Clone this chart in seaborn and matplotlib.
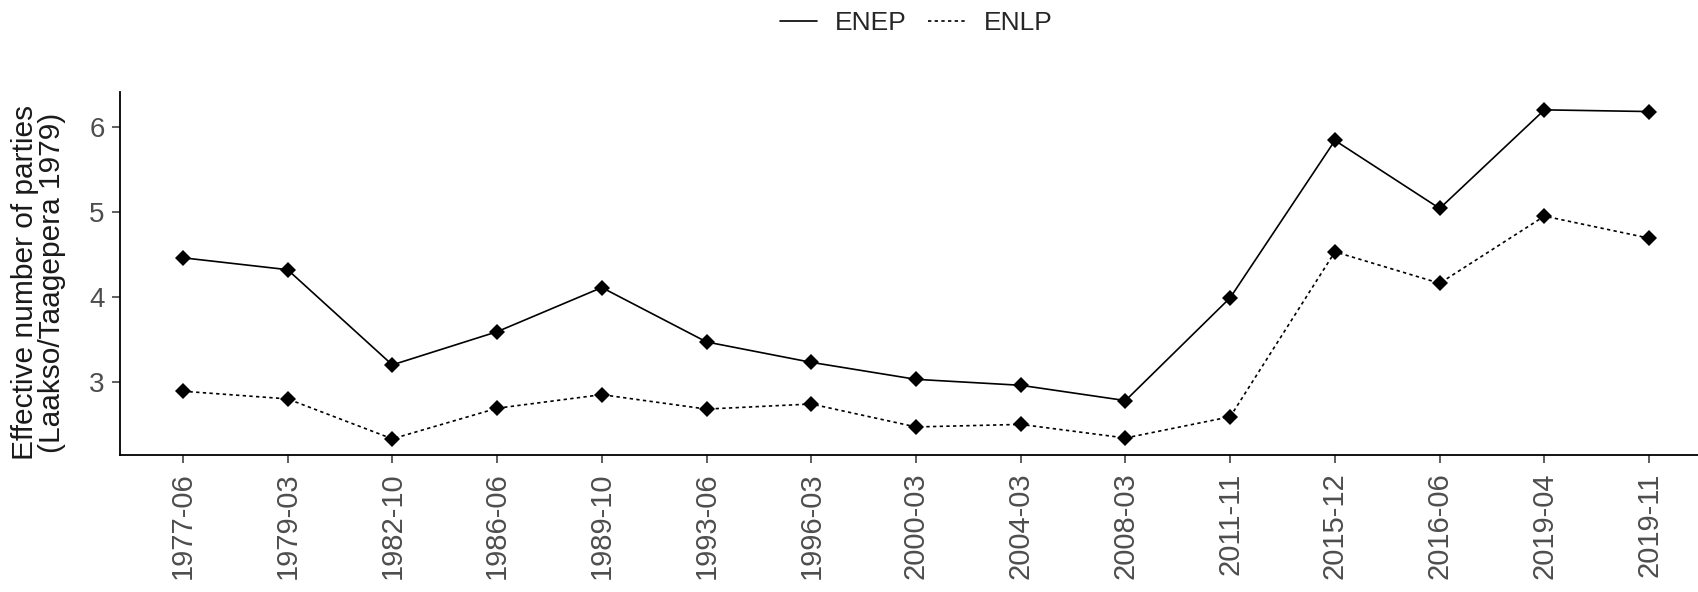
import pandas as pd
import matplotlib
matplotlib.use('Agg')
import matplotlib.pyplot as plt
import seaborn as sns

# election dates and effective number of parties
elections = ['1977-06', '1979-03', '1982-10', '1986-06', '1989-10', '1993-06', '1996-03',
             '2000-03', '2004-03', '2008-03', '2011-11', '2015-12', '2016-06', '2019-04', '2019-11']
enep = [4.46, 4.32, 3.20, 3.59, 4.11, 3.47, 3.23, 3.03, 2.96, 2.78, 3.99, 5.84, 5.04, 6.20, 6.18]
enlp = [2.89, 2.80, 2.33, 2.69, 2.85, 2.68, 2.74, 2.47, 2.50, 2.34, 2.59, 4.53, 4.16, 4.95, 4.69]

df = pd.DataFrame({'election': elections * 2,
                   'value': enep + enlp,
                   'index': ['ENEP'] * len(enep) + ['ENLP'] * len(enlp)})

sns.set_style('ticks')
plt.rcParams['font.family'] = ['Liberation Sans', 'DejaVu Sans']

fig = plt.figure(figsize=(16.99, 5.92), dpi=100)
ax = fig.add_axes([120 / 1699, 137 / 592, 1592 / 1699, 363 / 592])

sns.lineplot(data=df, x='election', y='value', hue='index', style='index',
             palette={'ENEP': 'black', 'ENLP': 'black'},
             dashes={'ENEP': '', 'ENLP': (2, 2)},
             markers={'ENEP': 'D', 'ENLP': 'D'},
             markersize=8, markeredgewidth=0, linewidth=1.2, ax=ax)

ax.set_xlim(-0.6, len(elections) - 0.4)
ax.set_ylim(2.14, 6.41)
ax.set_yticks([3, 4, 5, 6])
ax.set_xlabel('')
ax.set_ylabel('Effective number of parties\n(Laakso/Taagepera 1979)', fontsize=21.5,
              linespacing=0.95, color='#1a1a1a')
ax.yaxis.set_label_coords(-0.034, 0.475)
ax.tick_params(axis='x', labelrotation=90, labelsize=21, pad=6.5)
ax.tick_params(axis='y', labelsize=20, pad=5)
ax.tick_params(labelcolor='#4d4d4d', length=6, width=1.1, color='#333333')
for s in ['left', 'bottom']:
    ax.spines[s].set_linewidth(1.3)
    ax.spines[s].set_color('black')
sns.despine(ax=ax)

handles, labels = ax.get_legend_handles_labels()
ax.get_legend().remove()
fig.legend(handles, labels, loc='center', bbox_to_anchor=(916 / 1699, 1 - 23 / 592), ncol=2,
           frameon=False, fontsize=19, handlelength=1.4, handletextpad=0.7, columnspacing=0.8)
for h in fig.legends[0].legend_handles:
    h.set_marker('')

fig.savefig('out.png', dpi=100)
